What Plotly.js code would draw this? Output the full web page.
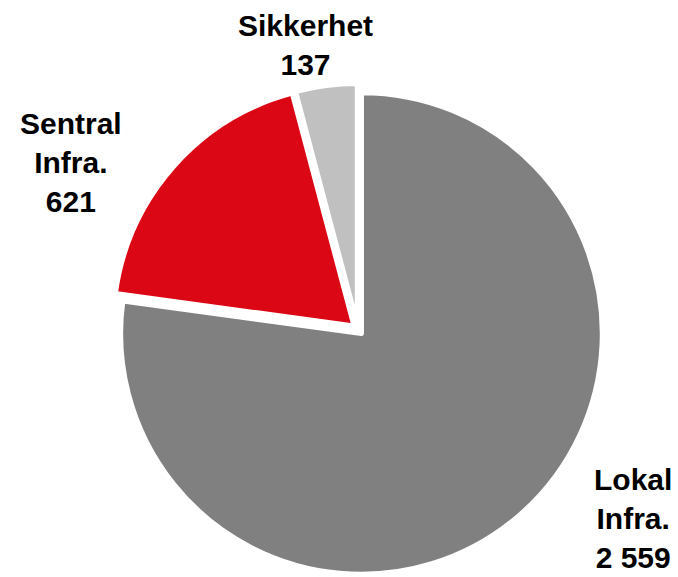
<!DOCTYPE html>
<html>
<head>
<meta charset="utf-8">
<script src="https://cdn.plot.ly/plotly-3.0.1.min.js"></script>
<style>html,body{margin:0;padding:0;background:#fff;}#chart{width:678px;height:577px;}</style>
</head>
<body>
<div id="chart"></div>
<script>
const labels = ["Lokal<br>Infra.", "Sentral<br>Infra.", "Sikkerhet"];
const values = [2559, 621, 137];
const valueText = ["2 559", "621", "137"];
const colors = ["#808080", "#DC0714", "#C0C0C0"];
// label anchor positions (paper coords)
const labelX = [633/678, 71/678, 305/678];
const labelY = [1 - 518/577, 1 - 162/577, 1 - 45/577];

const trace = {
  type: "pie",
  values: values,
  labels: labels,
  sort: false,
  direction: "clockwise",
  rotation: 0,
  pull: [0.022, 0.022, 0.022],
  marker: {colors: colors, line: {color: "#ffffff", width: 5}},
  textinfo: "none",
  hoverinfo: "none",
  showlegend: false,
  domain: {x: [0.165, 0.891], y: [0.0, 0.858]}
};

const annotations = labels.map((l, i) => ({
  xref: "paper", yref: "paper",
  x: labelX[i], y: labelY[i],
  xanchor: "center", yanchor: "middle",
  showarrow: false,
  align: "center",
  text: "<b>" + l + "<br>" + valueText[i] + "</b>",
  font: {family: "Liberation Sans, Arial, sans-serif", size: 30, color: "#000000"}
}));

Plotly.newPlot("chart", [trace], {
  width: 678, height: 577,
  margin: {l: 0, r: 0, t: 0, b: 0},
  paper_bgcolor: "#ffffff",
  plot_bgcolor: "#ffffff",
  annotations: annotations,
  showlegend: false
}, {staticPlot: true, displayModeBar: false});
</script>
</body>
</html>
